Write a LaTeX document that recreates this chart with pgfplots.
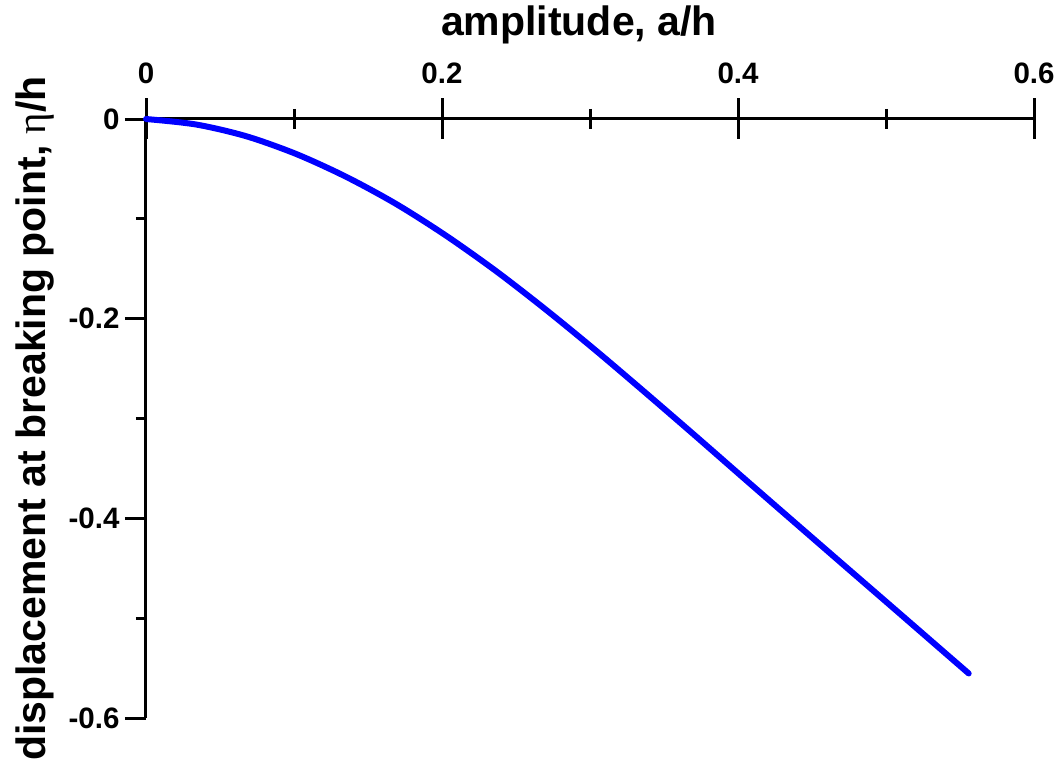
\documentclass[border=0pt]{standalone}
\usepackage{pgfplots}
\pgfplotsset{compat=1.18}
\usepackage{fontspec}
\setmainfont{Liberation Sans}
\newfontfamily\serifsym{Liberation Serif}
\begin{document}
\begin{tikzpicture}
\useasboundingbox (-146pt,-51pt) rectangle (911pt,718pt);
\begin{axis}[
  at={(0pt,0pt)}, anchor=south west,
  scale only axis, width=888pt, height=599pt,
  xmin=0, xmax=0.6, ymin=-0.6, ymax=0,
  axis x line=top, axis y line=none,
  axis line style={-, line width=3pt},
  xtick={0,0.2,0.4,0.6}, xticklabels={0,0.2,0.4,0.6},
  minor xtick={0.1,0.3,0.5},
  tick align=center,
  major tick length=41pt, minor tick length=20pt,
  tick style={black, line width=3pt},
  tick label style={font=\fontsize{29.5}{29.5}\selectfont\bfseries},
  xticklabel style={yshift=11pt},
  xlabel={amplitude, a/h},
  xlabel style={font=\fontsize{41}{41}\selectfont\bfseries, at={(axis description cs:0.4876,1.1386)}, anchor=base},
]
\end{axis}
\begin{axis}[
  at={(0pt,0pt)}, anchor=south west,
  scale only axis, width=888pt, height=599pt,
  xmin=0, xmax=0.6, ymin=-0.6, ymax=0,
  axis x line=none, axis y line=left,
  axis line style={-, line width=3pt},
  ytick={0,-0.2,-0.4,-0.6}, yticklabels={0,-0.2,-0.4,-0.6},
  minor ytick={-0.1,-0.3,-0.5},
  tick align=outside,
  major tick length=21pt, minor tick length=10pt,
  tick style={black, line width=3pt},
  tick label style={font=\fontsize{29.5}{29.5}\selectfont\bfseries},
  yticklabel style={xshift=-2pt},
  ylabel={displacement at breaking point, {\serifsym\mdseries η}/h},
  ylabel style={font=\fontsize{41}{41}\selectfont\bfseries, at={(axis description cs:-0.1137,0.5)}, anchor=base},
  clip=false,
]
\addplot[color={rgb,255:red,0;green,0;blue,255}, line width=6pt, smooth, line cap=round, line join=round] coordinates {
(0,0) (0.0338,-0.0055) (0.0676,-0.0172) (0.1014,-0.0350) (0.1351,-0.0578)
(0.1689,-0.0850) (0.2027,-0.1168) (0.2365,-0.1523) (0.2703,-0.1911)
(0.3041,-0.2321) (0.3378,-0.2746) (0.3716,-0.3179) (0.4054,-0.3617)
(0.4392,-0.4053) (0.4730,-0.4488) (0.5068,-0.4922) (0.5405,-0.5356)
(0.5559,-0.5554)
};
\end{axis}
\end{tikzpicture}
\end{document}
